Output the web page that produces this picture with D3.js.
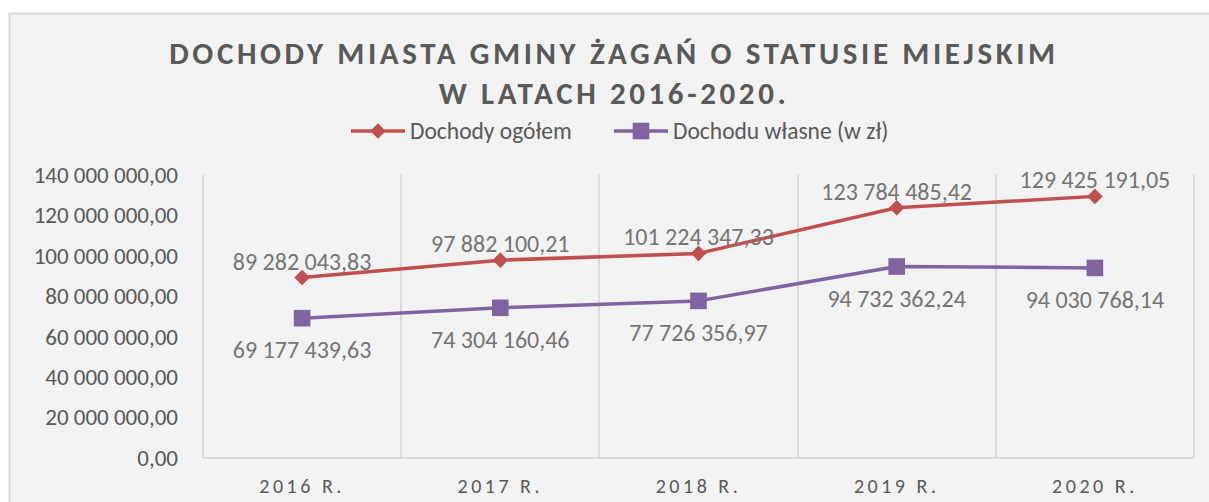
<!DOCTYPE html>
<meta charset="utf-8">
<style>
  html, body { margin: 0; padding: 0; background: #fff; overflow: hidden; }
  body, svg, .axis { font-family: Calibri, Carlito, "Open Sans", sans-serif; }
  .axis path, .axis line { fill: none; stroke: none; }
  .axis text { fill: #595959; font-size: 23px; }
  .grid line { stroke: #d9d9d9; stroke-width: 2px; shape-rendering: crispEdges; }
  .lbl { fill: #757575; font-size: 24px; }
</style>
<svg></svg>
<script src="https://d3js.org/d3.v7.min.js"></script>
<script>

var years = ["2016 R.", "2017 R.", "2018 R.", "2019 R.", "2020 R."];
var ogolem = [89282043.83, 97882100.21, 101224347.33, 123784485.42, 129425191.05];
var wlasne = [69177439.63, 74304160.46, 77726356.97, 94732362.24, 94030768.14];
var seriesNames = ["Dochody ogółem", "Dochodu własne (w zł)"];
var yTicks = [0, 20000000, 40000000, 60000000, 80000000, 100000000, 120000000, 140000000];

var W = 1209, H = 502;
var plot = {left: 203, right: 1194, top: 175, bottom: 458};

var svg = d3.select("svg").attr("width", W).attr("height", H);

var pl = d3.formatLocale({decimal: ",", thousands: " ", grouping: [3], currency: ["", " zł"]});
var fmt = pl.format(",.2f");

// chart frame
svg.append("rect")
    .attr("x", 9.5).attr("y", 13.5)
    .attr("width", W + 10).attr("height", H + 10)
    .attr("fill", "#f2f2f2")
    .attr("stroke", "#d9d9d9").attr("stroke-width", 2);

// title
var title = svg.append("text")
    .attr("text-anchor", "middle")
    .style("font-weight", "bold")
    .style("font-size", "31px")
    .style("letter-spacing", "3.6px")
    .style("fill", "#595959");
title.append("tspan").attr("x", 614).attr("y", 64).text("DOCHODY MIASTA GMINY ŻAGAŃ O STATUSIE MIEJSKIM");
title.append("tspan").attr("x", 614).attr("y", 104).text("W LATACH 2016-2020.");

var x = d3.scaleBand().domain(years).range([plot.left, plot.right]).padding(0);
var y = d3.scaleLinear().domain([0, 140000000]).range([plot.bottom, plot.top]);

// rotated square for the first series, plain square for the second
function marker(s) {
  if (s === 0) {
    var r = 7.8;
    return "M0," + (-r) + "L" + r + ",0L0," + r + "L" + (-r) + ",0Z";
  }
  var h = 8.3;
  return "M" + (-h) + "," + (-h) + "H" + h + "V" + h + "H" + (-h) + "Z";
}

// vertical grid lines at category boundaries
var edges = years.map(function(d) { return x(d); }).concat([plot.right]);
svg.append("g").attr("class", "grid")
  .selectAll("line").data(edges).enter().append("line")
    .attr("x1", function(d) { return d; }).attr("x2", function(d) { return d; })
    .attr("y1", plot.top).attr("y2", plot.bottom);

svg.append("line")
    .attr("x1", plot.left).attr("x2", plot.right)
    .attr("y1", plot.bottom).attr("y2", plot.bottom)
    .attr("stroke", "#d9d9d9").attr("stroke-width", 2)
    .style("shape-rendering", "crispEdges");

svg.append("g")
    .attr("class", "axis")
    .attr("transform", "translate(" + (plot.left - 3) + ",0)")
    .call(d3.axisLeft(y).tickValues(yTicks).tickFormat(fmt).tickSize(0).tickPadding(22));

svg.append("g")
    .attr("class", "axis axis--x")
    .attr("transform", "translate(0," + plot.bottom + ")")
    .call(d3.axisBottom(x).tickSize(0).tickPadding(21))
  .selectAll("text")
    .style("font-size", "20px")
    .style("letter-spacing", "3.5px");

var colours = ["#c0504d", "#8064a2"];
var series = [ogolem, wlasne];

var line = d3.line()
    .x(function(d, i) { return x(years[i]) + x.bandwidth() / 2; })
    .y(function(d) { return y(d); });

series.forEach(function(vals, s) {
  svg.append("path")
      .datum(vals)
      .attr("d", line)
      .attr("fill", "none")
      .attr("stroke", colours[s])
      .attr("stroke-width", 3.5)
      .attr("stroke-linejoin", "round");

  svg.append("g").selectAll("path").data(vals).enter().append("path")
      .attr("d", marker(s))
      .attr("transform", function(d, i) {
        return "translate(" + (x(years[i]) + x.bandwidth() / 2) + "," + y(d) + ")";
      })
      .attr("fill", colours[s]);

  svg.append("g").selectAll("text").data(vals).enter().append("text")
      .attr("class", "lbl")
      .attr("text-anchor", "middle")
      .attr("x", function(d, i) { return x(years[i]) + x.bandwidth() / 2; })
      .attr("y", function(d) { return y(d) + (s === 0 ? -8 : 40); })
      .text(function(d) { return fmt(d); });
});

// legend
var legend = svg.append("g").attr("transform", "translate(351,131)");
var lx = [0, 263];
seriesNames.forEach(function(name, s) {
  var g = legend.append("g").attr("transform", "translate(" + lx[s] + ",0)");
  g.append("line").attr("x1", 0).attr("x2", 54).attr("y1", 0).attr("y2", 0)
      .attr("stroke", colours[s]).attr("stroke-width", 3.5);
  g.append("path")
      .attr("d", marker(s))
      .attr("transform", "translate(27,0)")
      .attr("fill", colours[s]);
  g.append("text").attr("x", 59).attr("y", 8)
      .style("font-size", "23.5px").style("fill", "#595959")
      .text(name);
});
</script>
